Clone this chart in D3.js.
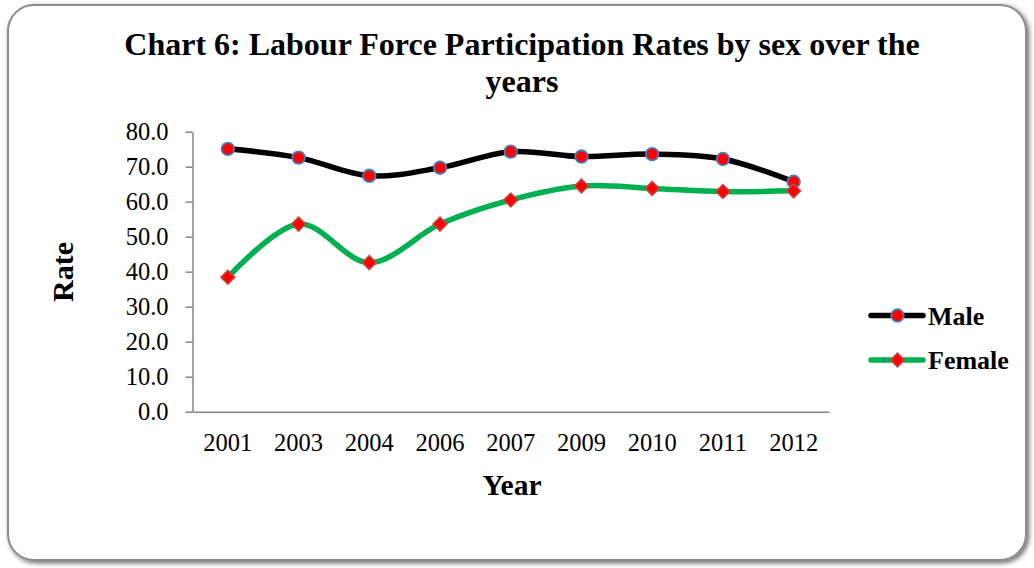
<!DOCTYPE html>
<html>
<head>
<meta charset="utf-8">
<script src="https://cdn.jsdelivr.net/npm/d3@7"></script>
<style>
  html, body { margin: 0; padding: 0; background: #ffffff; }
  svg { display: block; }
</style>
</head>
<body>
<svg id="chart" width="1034" height="568"></svg>
<script>
// Labour force participation rates, by sex
const years = ["2001", "2003", "2004", "2006", "2007", "2009", "2010", "2011", "2012"];
const maleRates = [75.1, 72.6, 67.4, 69.7, 74.3, 72.9, 73.6, 72.2, 65.7];
const femaleRates = [38.4, 53.6, 42.6, 53.6, 60.5, 64.5, 63.8, 62.9, 63.1];
const yTicks = [0, 10, 20, 30, 40, 50, 60, 70, 80];
const seriesNames = ["Male", "Female"];

const svg = d3.select("#chart");

// Frame with soft shadow
const defs = svg.append("defs");
const sh = defs.append("filter").attr("id", "shadow")
  .attr("x", "-5%").attr("y", "-5%").attr("width", "110%").attr("height", "110%");
sh.append("feGaussianBlur").attr("in", "SourceAlpha").attr("stdDeviation", 2.5).attr("result", "b");
sh.append("feOffset").attr("in", "b").attr("dx", 2).attr("dy", 2).attr("result", "o");
sh.append("feComponentTransfer").attr("in", "o").attr("result", "s")
  .append("feFuncA").attr("type", "linear").attr("slope", 0.6);
const mg = sh.append("feMerge");
mg.append("feMergeNode").attr("in", "s");
mg.append("feMergeNode").attr("in", "SourceGraphic");

svg.append("rect")
  .attr("x", 8).attr("y", 5).attr("width", 1018).attr("height", 555)
  .attr("rx", 26).attr("ry", 26)
  .attr("fill", "#ffffff").attr("stroke", "#8c8c8c").attr("stroke-width", 2)
  .attr("filter", "url(#shadow)");

// Plot area
const plot = { left: 192.5, right: 829, top: 131.7, bottom: 411.7 };

const x = d3.scaleBand().domain(years).range([plot.left, plot.right]).paddingInner(0).paddingOuter(0);
const y = d3.scaleLinear().domain([0, 80]).range([plot.bottom, plot.top]);
const cx = d => x(d) + x.bandwidth() / 2;

const serif = "'Liberation Serif', 'Times New Roman', serif";
const axisColor = "#868686";

// Y axis
const yAxis = svg.append("g").attr("transform", `translate(${plot.left},0)`)
  .call(d3.axisLeft(y).tickValues(yTicks).tickFormat(d3.format(".1f")).tickSize(7).tickSizeOuter(0).tickPadding(17));
yAxis.select(".domain").attr("stroke", axisColor).attr("stroke-width", 1.5);
yAxis.selectAll(".tick line").attr("stroke", axisColor).attr("stroke-width", 1.5);
yAxis.selectAll(".tick text").attr("font-family", serif).attr("font-size", 24.5).attr("fill", "#000");

// X axis
const xAxis = svg.append("g").attr("transform", `translate(0,${plot.bottom})`)
  .call(d3.axisBottom(x).tickSize(0).tickSizeOuter(0).tickPadding(22));
xAxis.select(".domain").attr("stroke", axisColor).attr("stroke-width", 1.5);
xAxis.selectAll(".tick text").attr("font-family", serif).attr("font-size", 24.5).attr("fill", "#000");

// Title
const title = svg.append("text")
  .attr("text-anchor", "middle")
  .attr("font-family", serif).attr("font-weight", "bold").attr("font-size", 32).attr("fill", "#000");
title.append("tspan").attr("x", 522).attr("y", 55).text("Chart 6: Labour Force Participation Rates by sex over the");
title.append("tspan").attr("x", 522).attr("y", 92).text("years");

// Axis titles
svg.append("text")
  .attr("x", 512).attr("y", 495).attr("text-anchor", "middle")
  .attr("font-family", serif).attr("font-weight", "bold").attr("font-size", 29.5).attr("fill", "#000")
  .text("Year");
svg.append("text")
  .attr("transform", "translate(73,272) rotate(-90)").attr("text-anchor", "middle")
  .attr("font-family", serif).attr("font-weight", "bold").attr("font-size", 30).attr("fill", "#000")
  .text("Rate");

// Smoothed lines
const line = d3.line().x(d => cx(d[0])).y(d => y(d[1])).curve(d3.curveCardinal.tension(0));
const maleData = years.map((yr, i) => [yr, maleRates[i]]);
const femaleData = years.map((yr, i) => [yr, femaleRates[i]]);

const maleColor = "#000000", femaleColor = "#00b050";

svg.append("path").datum(maleData).attr("d", line)
  .attr("fill", "none").attr("stroke", maleColor).attr("stroke-width", 5.5).attr("stroke-linecap", "round");
svg.append("path").datum(femaleData).attr("d", line)
  .attr("fill", "none").attr("stroke", femaleColor).attr("stroke-width", 5.5).attr("stroke-linecap", "round");

// Markers
function circleMarker(g, px, py) {
  g.append("circle").attr("cx", px).attr("cy", py).attr("r", 6.3)
    .attr("fill", "#ff0000").attr("stroke", "#4a7ebb").attr("stroke-width", 1.8);
}
function diamondMarker(g, px, py) {
  const s = 7;
  g.append("path")
    .attr("d", `M${px},${py - s}L${px + s},${py}L${px},${py + s}L${px - s},${py}Z`)
    .attr("fill", "#ff0000").attr("stroke", "#be4b48").attr("stroke-width", 1.5);
}
const mk = svg.append("g");
maleData.forEach(d => circleMarker(mk, cx(d[0]), y(d[1])));
femaleData.forEach(d => diamondMarker(mk, cx(d[0]), y(d[1])));

// Legend
const legend = svg.append("g");
const legendRows = [
  { name: seriesNames[0], color: maleColor, marker: circleMarker, y: 315.5 },
  { name: seriesNames[1], color: femaleColor, marker: diamondMarker, y: 360 }
];
legendRows.forEach(r => {
  legend.append("line").attr("x1", 871).attr("x2", 923).attr("y1", r.y).attr("y2", r.y)
    .attr("stroke", r.color).attr("stroke-width", 5.5).attr("stroke-linecap", "round");
  r.marker(legend, 897.5, r.y);
  legend.append("text").attr("x", 928).attr("y", r.y + 9)
    .attr("font-family", serif).attr("font-weight", "bold").attr("font-size", 26).attr("fill", "#000")
    .text(r.name);
});
</script>
</body>
</html>
